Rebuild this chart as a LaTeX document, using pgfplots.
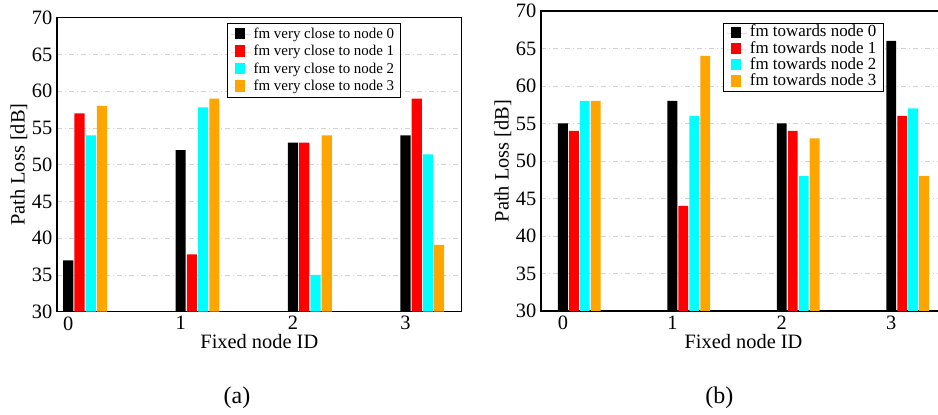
\documentclass[border=0pt]{standalone}
\usepackage{fontspec}
\setmainfont{Liberation Serif}
\usepackage{pgfplots}
\pgfplotsset{compat=1.18}

\definecolor{barred}{RGB}{255,0,0}
\definecolor{barcyan}{RGB}{0,255,255}
\definecolor{barorange}{RGB}{255,165,0}

\newcommand{\bigfont}{\fontsize{15.3}{18}\selectfont}

\pgfplotsset{
  plfig/.style={
    scale only axis,
    ybar, bar width=0.09,
    ymin=30, ymax=70, ytick={30,35,...,70},
    xtick={0,1,2,3},
    major tick length=0pt,
    ymajorgrids,
    major grid style={gray!35, dash pattern=on 4pt off 2pt on 1pt off 2pt, line width=0.5pt},
    axis line style={line width=0.8pt},
    tick label style={font=\bigfont},
    label style={font=\bigfont},
    /pgf/number format/assume math mode=true,
    xlabel={Fixed node ID}, ylabel={Path Loss [dB]},
    xlabel style={at={(axis description cs:0.5,-0.102)}, anchor=center},
    ylabel style={at={(axis description cs:-0.094,0.5)}, anchor=center},
    % square swatch with some room on both sides of it
    legend image code/.code={%
      \path (0pt,0pt) rectangle (15pt,0pt);
      \fill[##1] (2.7pt,-3.8pt) rectangle (10.2pt,4.6pt);},
    legend cell align=left,
  },
  s0/.style={fill=black, draw=none, bar shift=0},
  s1/.style={fill=barred, draw=none, bar shift=0.1},
  s2/.style={fill=barcyan, draw=none, bar shift=0.2},
  s3/.style={fill=barorange, draw=none, bar shift=0.3},
}

\begin{document}
\begin{tikzpicture}
\useasboundingbox (0,0) rectangle (703.5pt,310.5pt);

% (a) mobile node very close to each fixed node
\begin{axis}[plfig,
  at={(42.75pt,76.7pt)}, anchor=south west,
  width=303.5pt, height=220.5pt,
  xmin=-0.1, xmax=3.5,
  legend style={at={(axis description cs:0.419,0.982)}, anchor=north west,
    draw=black, line width=0.6pt, fill=white,
    font=\fontsize{11.2}{13}\selectfont,
    inner xsep=3pt, inner ysep=1.5pt,
    nodes={inner ysep=0pt, text height=9.5pt, text depth=3.6pt}},
]
\addplot[s0] coordinates {(0,37) (1,52) (2,53) (3,54)};
\addplot[s1] coordinates {(0,57) (1,37.8) (2,53) (3,59)};
\addplot[s2] coordinates {(0,54) (1,57.8) (2,35) (3,51.4)};
\addplot[s3] coordinates {(0,58) (1,59) (2,54) (3,39.1)};
\legend{fm very close to node 0, fm very close to node 1,
        fm very close to node 2, fm very close to node 3}
\end{axis}

% (b) mobile node moving towards each fixed node
\begin{axis}[plfig,
  at={(405.75pt,77.25pt)}, anchor=south west,
  width=303.75pt, height=225pt,
  xmin=-0.2, xmax=3.5,
  axis line style={line width=1.1pt},
  legend style={at={(axis description cs:0.449,0.961)}, anchor=north west,
    draw=black, line width=0.6pt, fill=white,
    font=\fontsize{12.7}{14}\selectfont,
    inner xsep=3pt, inner ysep=1.5pt,
    nodes={inner ysep=0pt, text height=8.9pt, text depth=3.2pt}},
]
\addplot[s0] coordinates {(0,55) (1,58) (2,55) (3,66)};
\addplot[s1] coordinates {(0,54) (1,44) (2,54) (3,56)};
\addplot[s2] coordinates {(0,58) (1,56) (2,48) (3,57)};
\addplot[s3] coordinates {(0,58) (1,64) (2,53) (3,48)};
\legend{fm towards node 0, fm towards node 1,
        fm towards node 2, fm towards node 3}
\end{axis}

\node[font=\fontsize{18}{20}\selectfont] at (177.75pt,12pt) {(a)};
\node[font=\fontsize{18}{20}\selectfont] at (539.6pt,12pt) {(b)};
\end{tikzpicture}
\end{document}
